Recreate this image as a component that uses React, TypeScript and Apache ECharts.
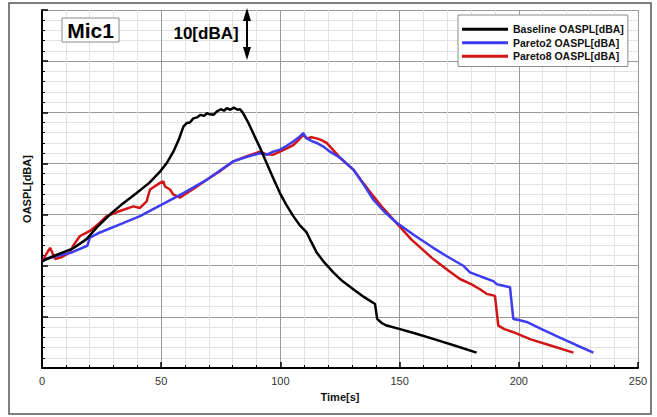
import React, { useEffect, useRef } from "react";
import * as echarts from "echarts";

const seriesNames = ["Baseline OASPL[dBA]", "Pareto2 OASPL[dBA]", "Pareto8 OASPL[dBA]"];
const seriesColors = ["#000000", "#3c3cf0", "#d21414"];

const xTicks = [0, 50, 100, 150, 200, 250];

const baseline: [number, number][] = [
  [0, 50.9], [5, 51.9], [10.4, 52.9], [13.1, 53.4], [18.7, 55.2], [23, 57.5], [28.5, 60.0], [33, 61.8], [39.7, 64.2],
  [45, 66.2], [49.5, 68.4], [52.5, 70.2], [55.1, 72.3], [57.5, 74.8], [59.3, 77.2],
  [60.7, 77.9], [62, 78.0], [63.5, 78.8], [65, 79.0], [66.5, 79.5], [68, 79.3],
  [69.1, 79.8], [70.5, 79.6], [71.9, 79.5], [73.5, 80.2], [75, 80.6], [76.3, 80.3],
  [77.5, 80.8], [79, 80.5], [80.5, 80.9], [82, 80.5], [83.1, 80.6], [84.4, 79.8],
  [86.5, 78.0], [88.6, 75.9], [91.5, 73.0], [94.2, 70.1], [97, 67.1], [99.8, 64.2],
  [102.5, 61.9], [105.4, 59.7], [108, 58.0], [111.0, 56.5], [113, 54.6], [115.2, 52.6],
  [118.5, 50.6], [122.2, 48.7], [126, 47.0], [130.6, 45.4], [135, 43.9], [139.7, 42.5],
  [140.6, 39.6], [142.5, 38.8], [144.6, 38.3], [150.2, 37.6], [157, 36.7], [164.1, 35.7],
  [173, 34.4], [182.3, 33.0],
];

const pareto2: [number, number][] = [
  [0, 50.8], [2, 51.4], [6.2, 51.9], [12.5, 52.6], [19.0, 53.9], [20.1, 55.5], [24.3, 56.5],
  [32.7, 58.1], [41.1, 59.7], [50, 61.9], [59.3, 64.2], [69.1, 66.8], [80.2, 70.4],
  [86, 71.3], [91.4, 72.0], [94.3, 71.7], [97, 72.3], [99.8, 72.7], [102.5, 73.4],
  [105.4, 74.3], [107.5, 75.0], [109.6, 75.9], [111.0, 74.9], [113, 74.4], [115.2, 74.0],
  [118, 73.3], [120.8, 72.3], [125.0, 71.1], [130.6, 68.8], [135, 65.8], [139.0, 62.9],
  [143.5, 60.6], [148.8, 58.4], [156, 56.0], [164.1, 53.5], [170, 51.8], [176.7, 50.0],
  [179.5, 48.7], [184, 47.9], [189.3, 47.0], [190.7, 46.4], [193.5, 46.1], [196.3, 45.8],
  [197.7, 39.6], [200, 39.4], [203.3, 39.0], [210, 37.5], [217, 36.0], [224, 34.5],
  [231.3, 33.0],
];

const pareto8: [number, number][] = [
  [0.1, 50.8], [1.7, 52.2], [3.4, 53.5], [5.5, 51.3], [8.4, 51.7], [11.7, 52.6],
  [13.1, 53.9], [15.9, 55.8], [20.1, 56.8], [24.3, 58.4], [27.1, 59.7], [32.7, 60.7],
  [38.3, 61.6], [41.1, 61.3], [43.9, 62.6], [45.3, 64.9], [49.5, 66.2], [50.9, 66.5],
  [51.6, 65.5], [53.7, 64.9], [55.1, 63.9], [57.9, 63.3], [60.7, 64.2], [65, 65.5],
  [69.1, 66.8], [75, 68.6], [80.2, 70.4], [86, 71.4], [91.4, 72.3], [94, 71.8],
  [97.0, 71.7], [99.8, 72.3], [102.5, 72.9], [105.4, 73.6], [107.5, 74.5], [109.6, 75.6],
  [111.0, 74.9], [113, 75.1], [115.2, 74.9], [117, 74.6], [119.4, 74.0], [122, 72.7],
  [125.0, 71.1], [130.6, 68.8], [135, 66.0], [139.0, 63.6], [143, 61.3], [147.4, 59.0],
  [155, 55.1], [164.1, 51.3], [170, 49.2], [175.3, 47.4], [180, 46.4], [183.7, 45.4],
  [186.5, 44.5], [190.0, 44.1], [191.4, 38.3], [194, 37.6], [197.7, 37.0], [205, 35.6],
  [214, 34.3], [222.9, 33.0],
];

const FONT = "'Liberation Sans', Arial, sans-serif";

export default function App() {
  const ref = useRef<HTMLDivElement>(null);
  useEffect(() => {
    if (!ref.current) return;
    const chart = echarts.init(ref.current, undefined, { renderer: "svg" });
    const datasets = [baseline, pareto2, pareto8];
    chart.setOption({
      animation: false,
      backgroundColor: "#ffffff",
      textStyle: { fontFamily: FONT },
      grid: { left: 42, right: 19, top: 10, bottom: 49, containLabel: false },
      legend: {
        data: seriesNames.map((n) => ({ name: n, icon: "rect" })),
        orient: "vertical",
        left: 458,
        top: 15,
        padding: [8, 4, 4, 4],
        itemWidth: 46,
        itemHeight: 3,
        itemGap: 1,
        itemTextGap: 9,
        backgroundColor: "#ffffff",
        borderColor: "#8a8a8a",
        borderWidth: 1,
        textStyle: { fontFamily: FONT, fontSize: 10.5, fontWeight: "bold", color: "#111", lineHeight: 12.5 },
      },
      xAxis: {
        type: "value",
        min: xTicks[0],
        max: xTicks[xTicks.length - 1],
        interval: 50,
        name: "Time[s]",
        nameLocation: "middle",
        nameGap: 23,
        nameTextStyle: { fontFamily: FONT, fontSize: 11, fontWeight: "bold", color: "#111" },
        axisLine: { show: true, onZero: false, lineStyle: { color: "#000", width: 2 } },
        axisTick: { show: true, inside: true, length: 6, lineStyle: { color: "#000", width: 1.5 } },
        minorTick: { show: true, splitNumber: 5, length: 3, lineStyle: { color: "#000", width: 1 } },
        axisLabel: { fontFamily: FONT, fontSize: 11, color: "#333", margin: 7 },
        splitLine: { show: true, lineStyle: { color: "#9a9a9a", width: 1 } },
        minorSplitLine: { show: true, lineStyle: { color: "#e2e2e2", width: 1 } },
      },
      yAxis: {
        type: "value",
        min: 30,
        max: 100,
        interval: 10,
        name: "OASPL[dBA]",
        nameLocation: "middle",
        nameGap: 10,
        nameRotate: 90,
        nameTextStyle: { fontFamily: FONT, fontSize: 11, fontWeight: "bold", color: "#111" },
        axisLine: { show: true, onZero: false, lineStyle: { color: "#000", width: 2 } },
        axisTick: { show: true, inside: true, length: 6, lineStyle: { color: "#000", width: 1.5 } },
        minorTick: { show: true, splitNumber: 5, length: 3, lineStyle: { color: "#000", width: 1 } },
        axisLabel: { show: false },
        splitLine: { show: true, lineStyle: { color: "#9a9a9a", width: 1 } },
        minorSplitLine: { show: true, lineStyle: { color: "#e2e2e2", width: 1 } },
      },
      series: seriesNames.map((name, i) => ({
        name,
        type: "line",
        data: datasets[i],
        showSymbol: false,
        symbol: "none",
        smooth: false,
        color: seriesColors[i],
        itemStyle: { color: seriesColors[i] },
        lineStyle: { color: seriesColors[i], width: 2.5 },
        z: 10 - i,
      })),
      graphic: [
        {
          type: "rect",
          shape: { x: 9, y: 3, width: 642, height: 411 },
          style: { fill: "none", stroke: "#555", lineWidth: 1.5 },
          silent: true,
          z: 0,
        },
        {
          type: "rect",
          shape: { x: 62, y: 18, width: 57, height: 24 },
          style: { fill: "#fff", stroke: "#8a8a8a", lineWidth: 1 },
          z: 20,
        },
        {
          type: "text",
          x: 90.5,
          y: 30.5,
          style: {
            text: "Mic1",
            fontFamily: FONT,
            fontSize: 21,
            fontWeight: "bold",
            fill: "#000",
            align: "center",
            verticalAlign: "middle",
          },
          z: 21,
        },
        {
          type: "text",
          x: 206,
          y: 33,
          style: {
            text: "10[dBA]",
            fontFamily: FONT,
            fontSize: 17,
            fontWeight: "bold",
            fill: "#000",
            align: "center",
            verticalAlign: "middle",
          },
          z: 21,
        },
        {
          type: "line",
          shape: { x1: 247, y1: 16, x2: 247, y2: 52 },
          style: { stroke: "#000", lineWidth: 2 },
          z: 21,
        },
        {
          type: "polygon",
          shape: { points: [[247, 8], [243, 21], [251, 21]] },
          style: { fill: "#000" },
          z: 21,
        },
        {
          type: "polygon",
          shape: { points: [[247, 60], [243, 47], [251, 47]] },
          style: { fill: "#000" },
          z: 21,
        },
      ],
    });
    return () => chart.dispose();
  }, []);
  return (
    <div
      ref={ref}
      style={{ position: "absolute", left: 0, top: 0, width: 657, height: 417, background: "#fff" }}
    />
  );
}
